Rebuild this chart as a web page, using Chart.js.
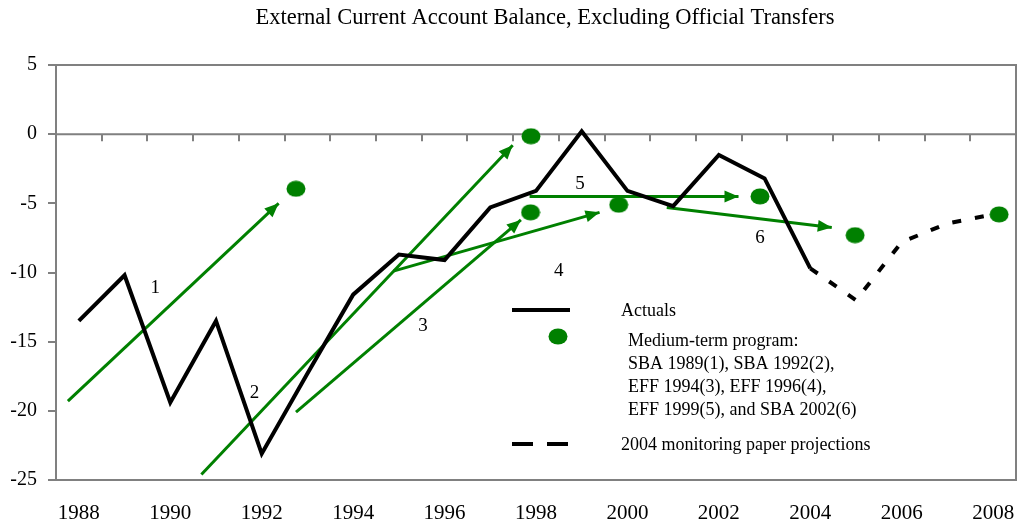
<!DOCTYPE html>
<html>
<head>
<meta charset="utf-8">
<script src="https://cdn.jsdelivr.net/npm/chart.js@4/dist/chart.umd.min.js"></script>
<style>
  html, body { margin: 0; padding: 0; background: #fff; }
  #wrap { width: 1019px; height: 527px; }
</style>
</head>
<body>
<div id="wrap"><canvas id="chart" width="1019" height="527"></canvas></div>
<script>
// data
var chartTitle = 'External Current Account Balance, Excluding Official Transfers';

var actualYears = [1988, 1989, 1990, 1991, 1992, 1993, 1994, 1995, 1996, 1997, 1998, 1999, 2000, 2001, 2002, 2003, 2004];
var actualValues = [-13.5, -10.2, -19.4, -13.5, -23.1, -17.3, -11.6, -8.7, -9.1, -5.3, -4.1, 0.2, -4.1, -5.2, -1.5, -3.2, -9.7];

var projYears = [2004, 2005, 2006, 2007, 2008];
var projValues = [-9.7, -12.0, -7.8, -6.45, -5.8];

var programX = [1992.75, 1997.89, 1997.88, 1999.81, 2002.9, 2004.98, 2008.13];
var programY = [-3.95, -0.15, -5.65, -5.1, -4.5, -7.3, -5.8];

// arrows: start (x0,y0) -> tip (x1,y1), with their number labels
var arrowX0 = [1987.76, 1990.68, 1992.75, 1994.88, 1997.86, 2000.86];
var arrowY0 = [-19.3, -24.6, -20.1, -9.9, -4.5, -5.3];
var arrowX1 = [1992.37, 1997.49, 1997.67, 1999.39, 2002.43, 2004.47];
var arrowY1 = [-5.0, -0.8, -6.2, -5.65, -4.5, -6.75];
var arrowLabels = ['1', '2', '3', '4', '5', '6'];
var labelX = [1989.67, 1991.84, 1995.53, 1998.5, 1998.96, 2002.9];
var labelY = [-11.1, -18.7, -13.9, -9.9, -3.6, -7.5];

var xTicks = [1988, 1990, 1992, 1994, 1996, 1998, 2000, 2002, 2004, 2006, 2008];

var GREEN = '#008000';
var GREY = '#808080';
var SERIF = "'Liberation Serif', 'Times New Roman', serif";

// ellipse marker
function makeDot() {
    var c = document.createElement('canvas');
    c.width = 20;
    c.height = 17;
    var g = c.getContext('2d');
    g.fillStyle = GREEN;
    g.beginPath();
    g.ellipse(10, 8.5, 9.5, 8, 0, 0, Math.PI * 2);
    g.fill();
    return c;
}
var dotImg = makeDot();

function toPoints(xs, ys) {
    return xs.map(function (x, i) { return { x: x, y: ys[i] }; });
}

var datasets = [];
datasets.push({
    label: 'Medium-term program',
    data: toPoints(programX, programY),
    showLine: false,
    pointStyle: dotImg,
    pointRadius: 9
});
datasets.push({
    label: 'Actuals',
    data: toPoints(actualYears, actualValues),
    borderColor: '#000',
    borderWidth: 4,
    pointRadius: 0,
    borderJoinStyle: 'miter'
});
datasets.push({
    label: '2004 monitoring paper projections',
    data: toPoints(projYears, projValues),
    borderColor: '#000',
    borderWidth: 4,
    borderDash: [9, 14],
    pointRadius: 0
});
for (var i = 0; i < arrowX0.length; i++) {
    datasets.push({
        label: 'arrow' + (i + 1),
        data: [{ x: arrowX0[i], y: arrowY0[i] }, { x: arrowX1[i], y: arrowY1[i] }],
        borderColor: GREEN,
        borderWidth: 3,
        pointRadius: 0
    });
}

// title, frame, zero line with ticks, arrow heads, numbers, legend
var extras = {
    id: 'extras',
    beforeDatasetsDraw: function (chart) {
        var ctx = chart.ctx, a = chart.chartArea;
        var xs = chart.scales.x, ys = chart.scales.y;
        ctx.save();
        ctx.fillStyle = '#000';
        ctx.font = '22.5px ' + SERIF;
        ctx.textAlign = 'center';
        ctx.textBaseline = 'middle';
        ctx.fillText(chartTitle, 545, 18);

        ctx.strokeStyle = GREY;
        ctx.lineWidth = 2;
        ctx.strokeRect(a.left, a.top, a.right - a.left, a.bottom - a.top);
        var y0 = ys.getPixelForValue(0);
        ctx.beginPath();
        ctx.moveTo(a.left, y0);
        ctx.lineTo(a.right, y0);
        for (var yr = 1988.5; yr < 2008.5; yr++) {
            var px = Math.round(xs.getPixelForValue(yr));
            ctx.moveTo(px, y0);
            ctx.lineTo(px, y0 + 7);
        }
        ctx.stroke();
        ctx.restore();
    },
    afterDraw: function (chart) {
        var ctx = chart.ctx;
        var xs = chart.scales.x, ys = chart.scales.y;
        ctx.save();
        // arrow heads
        ctx.fillStyle = GREEN;
        for (var i = 0; i < arrowX0.length; i++) {
            var sx = xs.getPixelForValue(arrowX0[i]), sy = ys.getPixelForValue(arrowY0[i]);
            var tx = xs.getPixelForValue(arrowX1[i]), ty = ys.getPixelForValue(arrowY1[i]);
            var ang = Math.atan2(ty - sy, tx - sx);
            var len = 14, hw = 6;
            ctx.beginPath();
            ctx.moveTo(tx, ty);
            ctx.lineTo(tx - len * Math.cos(ang) + hw * Math.sin(ang), ty - len * Math.sin(ang) - hw * Math.cos(ang));
            ctx.lineTo(tx - len * Math.cos(ang) - hw * Math.sin(ang), ty - len * Math.sin(ang) + hw * Math.cos(ang));
            ctx.closePath();
            ctx.fill();
        }
        // numbers
        ctx.fillStyle = '#000';
        ctx.font = '19px ' + SERIF;
        ctx.textAlign = 'center';
        ctx.textBaseline = 'middle';
        for (var j = 0; j < arrowLabels.length; j++) {
            ctx.fillText(arrowLabels[j], xs.getPixelForValue(labelX[j]), ys.getPixelForValue(labelY[j]));
        }
        // legend
        ctx.strokeStyle = '#000';
        ctx.lineWidth = 4;
        ctx.beginPath();
        ctx.moveTo(512, 310);
        ctx.lineTo(570, 310);
        ctx.stroke();
        ctx.setLineDash([21, 14]);
        ctx.beginPath();
        ctx.moveTo(512, 444);
        ctx.lineTo(568, 444);
        ctx.stroke();
        ctx.setLineDash([]);
        ctx.fillStyle = GREEN;
        ctx.beginPath();
        ctx.ellipse(558, 336.5, 9.5, 8, 0, 0, Math.PI * 2);
        ctx.fill();
        ctx.fillStyle = '#000';
        ctx.font = '18px ' + SERIF;
        ctx.textAlign = 'left';
        ctx.fillText('Actuals', 621, 311);
        ctx.fillText('Medium-term program:', 628, 341);
        ctx.fillText('SBA 1989(1), SBA 1992(2),', 628, 364);
        ctx.fillText('EFF 1994(3), EFF 1996(4),', 628, 387);
        ctx.fillText('EFF 1999(5), and SBA 2002(6)', 628, 410);
        ctx.fillText('2004 monitoring paper projections', 621, 445);
        ctx.restore();
    }
};

new Chart(document.getElementById('chart'), {
    type: 'line',
    data: { datasets: datasets },
    options: {
        responsive: false,
        animation: false,
        events: [],
        layout: { autoPadding: false, padding: { left: 0, right: 3, top: 65, bottom: 0 } },
        plugins: {
            legend: { display: false },
            tooltip: { enabled: false },
            title: { display: false }
        },
        scales: {
            x: {
                type: 'linear',
                min: 1987.5,
                max: 2008.5,
                afterBuildTicks: function (scale) {
                    scale.ticks = xTicks.map(function (v) { return { value: v }; });
                },
                afterFit: function (scale) {
                    scale.height = 47;
                    scale.paddingLeft = 0;
                    scale.paddingRight = 0;
                },
                grid: { display: false, drawTicks: false },
                border: { display: false },
                ticks: {
                    color: '#000',
                    padding: 21,
                    maxRotation: 0,
                    autoSkip: false,
                    font: { family: SERIF, size: 21 },
                    callback: function (v) { return String(v); }
                }
            },
            y: {
                min: -25,
                max: 5,
                afterFit: function (scale) { scale.width = 56; },
                grid: { drawOnChartArea: false, drawTicks: true, tickLength: 8, color: GREY, lineWidth: 2 },
                border: { display: false },
                ticks: {
                    stepSize: 5,
                    color: '#000',
                    padding: 11,
                    font: { family: SERIF, size: 20 },
                    callback: function (v) { return String(v); }
                }
            }
        }
    },
    plugins: [extras]
});
</script>
</body>
</html>
